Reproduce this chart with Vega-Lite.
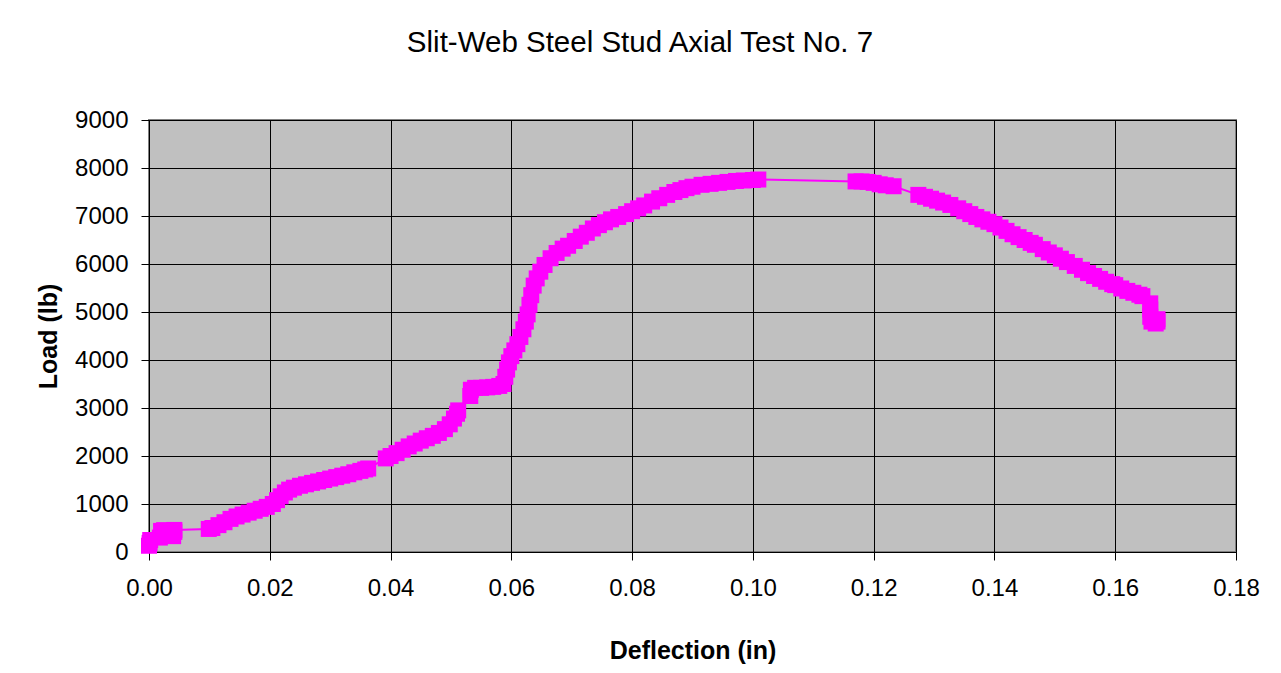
{
  "$schema": "https://vega.github.io/schema/vega-lite/v6.json",
  "autosize": {"type": "none"},
  "padding": {"left": 149, "top": 120, "right": 45, "bottom": 121},
  "width": 1087,
  "height": 432,
  "background": "white",
  "title": {
    "text": "Slit-Web Steel Stud Axial Test No. 7",
    "font": "Liberation Sans",
    "fontSize": 29.5,
    "fontWeight": "normal",
    "color": "black",
    "anchor": "middle",
    "frame": "bounds",
    "baseline": "alphabetic",
    "offset": 27,
    "dx": -8
  },
  "data": {
    "values": [
      {"i": 1, "Deflection": 0.0000, "Load": 130},
      {"i": 2, "Deflection": 0.0001, "Load": 190},
      {"i": 3, "Deflection": 0.0002, "Load": 250},
      {"i": 4, "Deflection": 0.0018, "Load": 300},
      {"i": 5, "Deflection": 0.0020, "Load": 440},
      {"i": 6, "Deflection": 0.0025, "Load": 455},
      {"i": 7, "Deflection": 0.0030, "Load": 440},
      {"i": 8, "Deflection": 0.0035, "Load": 380},
      {"i": 9, "Deflection": 0.0040, "Load": 330},
      {"i": 10, "Deflection": 0.0042, "Load": 420},
      {"i": 11, "Deflection": 0.0042, "Load": 460},
      {"i": 12, "Deflection": 0.0099, "Load": 480},
      {"i": 13, "Deflection": 0.0105, "Load": 500},
      {"i": 14, "Deflection": 0.0115, "Load": 560},
      {"i": 15, "Deflection": 0.0125, "Load": 620},
      {"i": 16, "Deflection": 0.0135, "Load": 690},
      {"i": 17, "Deflection": 0.0145, "Load": 740},
      {"i": 18, "Deflection": 0.0155, "Load": 780},
      {"i": 19, "Deflection": 0.0165, "Load": 820},
      {"i": 20, "Deflection": 0.0175, "Load": 860},
      {"i": 21, "Deflection": 0.0185, "Load": 900},
      {"i": 22, "Deflection": 0.0195, "Load": 940},
      {"i": 23, "Deflection": 0.0205, "Load": 1000},
      {"i": 24, "Deflection": 0.0212, "Load": 1080},
      {"i": 25, "Deflection": 0.0218, "Load": 1160},
      {"i": 26, "Deflection": 0.0225, "Load": 1240},
      {"i": 27, "Deflection": 0.0232, "Load": 1300},
      {"i": 28, "Deflection": 0.0240, "Load": 1340},
      {"i": 29, "Deflection": 0.0250, "Load": 1380},
      {"i": 30, "Deflection": 0.0260, "Load": 1410},
      {"i": 31, "Deflection": 0.0270, "Load": 1440},
      {"i": 32, "Deflection": 0.0280, "Load": 1470},
      {"i": 33, "Deflection": 0.0290, "Load": 1500},
      {"i": 34, "Deflection": 0.0300, "Load": 1530},
      {"i": 35, "Deflection": 0.0310, "Load": 1560},
      {"i": 36, "Deflection": 0.0320, "Load": 1590},
      {"i": 37, "Deflection": 0.0330, "Load": 1620},
      {"i": 38, "Deflection": 0.0340, "Load": 1660},
      {"i": 39, "Deflection": 0.0350, "Load": 1690},
      {"i": 40, "Deflection": 0.0358, "Load": 1720},
      {"i": 41, "Deflection": 0.0363, "Load": 1740},
      {"i": 42, "Deflection": 0.0392, "Load": 1950},
      {"i": 43, "Deflection": 0.0400, "Load": 2000},
      {"i": 44, "Deflection": 0.0410, "Load": 2060},
      {"i": 45, "Deflection": 0.0420, "Load": 2130},
      {"i": 46, "Deflection": 0.0430, "Load": 2200},
      {"i": 47, "Deflection": 0.0440, "Load": 2260},
      {"i": 48, "Deflection": 0.0450, "Load": 2320},
      {"i": 49, "Deflection": 0.0460, "Load": 2370},
      {"i": 50, "Deflection": 0.0470, "Load": 2420},
      {"i": 51, "Deflection": 0.0480, "Load": 2480},
      {"i": 52, "Deflection": 0.0490, "Load": 2560},
      {"i": 53, "Deflection": 0.0498, "Load": 2660},
      {"i": 54, "Deflection": 0.0505, "Load": 2780},
      {"i": 55, "Deflection": 0.0510, "Load": 2880},
      {"i": 56, "Deflection": 0.0512, "Load": 2950},
      {"i": 57, "Deflection": 0.0532, "Load": 3250},
      {"i": 58, "Deflection": 0.0533, "Load": 3380},
      {"i": 59, "Deflection": 0.0540, "Load": 3420},
      {"i": 60, "Deflection": 0.0550, "Load": 3420},
      {"i": 61, "Deflection": 0.0560, "Load": 3430},
      {"i": 62, "Deflection": 0.0570, "Load": 3440},
      {"i": 63, "Deflection": 0.0580, "Load": 3460},
      {"i": 64, "Deflection": 0.0587, "Load": 3500},
      {"i": 65, "Deflection": 0.0590, "Load": 3650},
      {"i": 66, "Deflection": 0.0593, "Load": 3800},
      {"i": 67, "Deflection": 0.0596, "Load": 3950},
      {"i": 68, "Deflection": 0.0600, "Load": 4080},
      {"i": 69, "Deflection": 0.0605, "Load": 4200},
      {"i": 70, "Deflection": 0.0610, "Load": 4330},
      {"i": 71, "Deflection": 0.0615, "Load": 4480},
      {"i": 72, "Deflection": 0.0620, "Load": 4640},
      {"i": 73, "Deflection": 0.0624, "Load": 4800},
      {"i": 74, "Deflection": 0.0627, "Load": 4950},
      {"i": 75, "Deflection": 0.0630, "Load": 5150},
      {"i": 76, "Deflection": 0.0633, "Load": 5350},
      {"i": 77, "Deflection": 0.0637, "Load": 5550},
      {"i": 78, "Deflection": 0.0642, "Load": 5700},
      {"i": 79, "Deflection": 0.0648, "Load": 5840},
      {"i": 80, "Deflection": 0.0655, "Load": 5980},
      {"i": 81, "Deflection": 0.0665, "Load": 6120},
      {"i": 82, "Deflection": 0.0675, "Load": 6230},
      {"i": 83, "Deflection": 0.0685, "Load": 6320},
      {"i": 84, "Deflection": 0.0694, "Load": 6380},
      {"i": 85, "Deflection": 0.0705, "Load": 6480},
      {"i": 86, "Deflection": 0.0715, "Load": 6570},
      {"i": 87, "Deflection": 0.0725, "Load": 6650},
      {"i": 88, "Deflection": 0.0735, "Load": 6740},
      {"i": 89, "Deflection": 0.0745, "Load": 6810},
      {"i": 90, "Deflection": 0.0755, "Load": 6870},
      {"i": 91, "Deflection": 0.0765, "Load": 6930},
      {"i": 92, "Deflection": 0.0777, "Load": 6980},
      {"i": 93, "Deflection": 0.0790, "Load": 7040},
      {"i": 94, "Deflection": 0.0800, "Load": 7100},
      {"i": 95, "Deflection": 0.0810, "Load": 7160},
      {"i": 96, "Deflection": 0.0820, "Load": 7220},
      {"i": 97, "Deflection": 0.0833, "Load": 7300},
      {"i": 98, "Deflection": 0.0845, "Load": 7370},
      {"i": 99, "Deflection": 0.0858, "Load": 7440},
      {"i": 100, "Deflection": 0.0870, "Load": 7500},
      {"i": 101, "Deflection": 0.0880, "Load": 7540},
      {"i": 102, "Deflection": 0.0890, "Load": 7580},
      {"i": 103, "Deflection": 0.0900, "Load": 7610},
      {"i": 104, "Deflection": 0.0915, "Load": 7650},
      {"i": 105, "Deflection": 0.0930, "Load": 7670},
      {"i": 106, "Deflection": 0.0944, "Load": 7690},
      {"i": 107, "Deflection": 0.0958, "Load": 7710},
      {"i": 108, "Deflection": 0.0972, "Load": 7730},
      {"i": 109, "Deflection": 0.0985, "Load": 7740},
      {"i": 110, "Deflection": 0.1000, "Load": 7750},
      {"i": 111, "Deflection": 0.1009, "Load": 7760},
      {"i": 112, "Deflection": 0.1170, "Load": 7720},
      {"i": 113, "Deflection": 0.1180, "Load": 7720},
      {"i": 114, "Deflection": 0.1190, "Load": 7710},
      {"i": 115, "Deflection": 0.1200, "Load": 7690},
      {"i": 116, "Deflection": 0.1210, "Load": 7660},
      {"i": 117, "Deflection": 0.1220, "Load": 7640},
      {"i": 118, "Deflection": 0.1233, "Load": 7620},
      {"i": 119, "Deflection": 0.1274, "Load": 7440},
      {"i": 120, "Deflection": 0.1285, "Load": 7400},
      {"i": 121, "Deflection": 0.1295, "Load": 7360},
      {"i": 122, "Deflection": 0.1305, "Load": 7320},
      {"i": 123, "Deflection": 0.1315, "Load": 7280},
      {"i": 124, "Deflection": 0.1327, "Load": 7230},
      {"i": 125, "Deflection": 0.1340, "Load": 7160},
      {"i": 126, "Deflection": 0.1350, "Load": 7100},
      {"i": 127, "Deflection": 0.1360, "Load": 7040},
      {"i": 128, "Deflection": 0.1370, "Load": 6980},
      {"i": 129, "Deflection": 0.1380, "Load": 6930},
      {"i": 130, "Deflection": 0.1390, "Load": 6880},
      {"i": 131, "Deflection": 0.1400, "Load": 6830},
      {"i": 132, "Deflection": 0.1410, "Load": 6760},
      {"i": 133, "Deflection": 0.1420, "Load": 6690},
      {"i": 134, "Deflection": 0.1430, "Load": 6620},
      {"i": 135, "Deflection": 0.1440, "Load": 6560},
      {"i": 136, "Deflection": 0.1450, "Load": 6500},
      {"i": 137, "Deflection": 0.1460, "Load": 6440},
      {"i": 138, "Deflection": 0.1467, "Load": 6400},
      {"i": 139, "Deflection": 0.1480, "Load": 6310},
      {"i": 140, "Deflection": 0.1490, "Load": 6240},
      {"i": 141, "Deflection": 0.1500, "Load": 6180},
      {"i": 142, "Deflection": 0.1510, "Load": 6110},
      {"i": 143, "Deflection": 0.1520, "Load": 6040},
      {"i": 144, "Deflection": 0.1533, "Load": 5960},
      {"i": 145, "Deflection": 0.1545, "Load": 5880},
      {"i": 146, "Deflection": 0.1555, "Load": 5810},
      {"i": 147, "Deflection": 0.1565, "Load": 5750},
      {"i": 148, "Deflection": 0.1575, "Load": 5690},
      {"i": 149, "Deflection": 0.1585, "Load": 5630},
      {"i": 150, "Deflection": 0.1595, "Load": 5580},
      {"i": 151, "Deflection": 0.1600, "Load": 5560},
      {"i": 152, "Deflection": 0.1610, "Load": 5490},
      {"i": 153, "Deflection": 0.1620, "Load": 5440},
      {"i": 154, "Deflection": 0.1630, "Load": 5400},
      {"i": 155, "Deflection": 0.1640, "Load": 5360},
      {"i": 156, "Deflection": 0.1645, "Load": 5330},
      {"i": 157, "Deflection": 0.1658, "Load": 5180},
      {"i": 158, "Deflection": 0.1658, "Load": 5050},
      {"i": 159, "Deflection": 0.1658, "Load": 4900},
      {"i": 160, "Deflection": 0.1660, "Load": 4800},
      {"i": 161, "Deflection": 0.1667, "Load": 4760},
      {"i": 162, "Deflection": 0.1670, "Load": 4800},
      {"i": 163, "Deflection": 0.1670, "Load": 4850}
    ]
  },
  "encoding": {
    "x": {
      "field": "Deflection",
      "type": "quantitative",
      "scale": {"domain": [0, 0.18], "nice": false, "zero": false},
      "axis": {
        "title": "Deflection (in)",
        "values": [0, 0.02, 0.04, 0.06, 0.08, 0.1, 0.12, 0.14, 0.16, 0.18],
        "format": ".2f",
        "titlePadding": 38,
        "labelPadding": 16
      }
    },
    "y": {
      "field": "Load",
      "type": "quantitative",
      "scale": {"domain": [0, 9000], "nice": false},
      "axis": {
        "title": "Load (lb)",
        "values": [0, 1000, 2000, 3000, 4000, 5000, 6000, 7000, 8000, 9000],
        "format": "d",
        "titlePadding": 13,
        "labelPadding": 13
      }
    },
    "order": {"field": "i", "type": "quantitative"}
  },
  "layer": [
    {"mark": {"type": "line", "color": "#FF00FF", "strokeWidth": 2}},
    {"mark": {"type": "point", "shape": "square", "filled": true, "size": 256, "color": "#FF00FF", "opacity": 1}}
  ],
  "config": {
    "font": "Liberation Sans",
    "view": {"fill": "#C0C0C0", "stroke": "#808080", "strokeWidth": 2},
    "axis": {
      "labelFont": "Liberation Sans",
      "labelFontSize": 24,
      "labelColor": "black",
      "titleFont": "Liberation Sans",
      "titleFontSize": 25,
      "titleFontWeight": "bold",
      "titleColor": "black",
      "domainColor": "black",
      "domainWidth": 1,
      "tickColor": "black",
      "tickSize": 8,
      "gridColor": "black",
      "gridOpacity": 1,
      "gridWidth": 1,
      "labelFlush": false,
      "labelOverlap": false
    }
  }
}
